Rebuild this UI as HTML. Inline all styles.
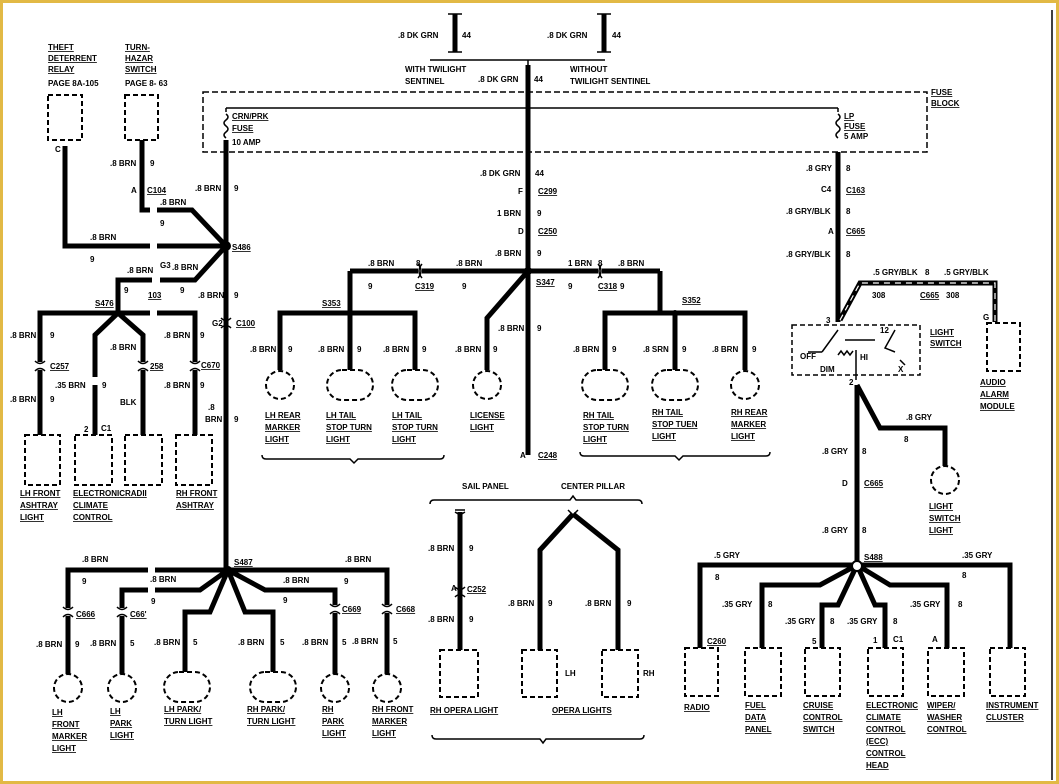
<!DOCTYPE html>
<html><head><meta charset="utf-8"><style>
html,body{margin:0;padding:0;background:#fff}
svg{display:block}
text{font-family:"Liberation Sans",sans-serif;font-weight:bold;font-size:8px;fill:#000}
.u{text-decoration:underline}
.w{fill:none;stroke:#000;stroke-width:5;stroke-linejoin:miter}
.d{fill:#fff;stroke:#000;stroke-width:2;stroke-dasharray:5,3}
.t{fill:none;stroke:#000;stroke-width:1.5}
</style></head><body>
<svg width="1059" height="784" viewBox="0 0 1059 784" xmlns="http://www.w3.org/2000/svg">
<rect x="1.5" y="1.5" width="1056" height="781" fill="#fff" stroke="#e2b945" stroke-width="3"/>
<line x1="1052" y1="10" x2="1052" y2="780" stroke="#000" stroke-width="1.5"/>

<!-- top DK GRN -->
<path class="w" d="M455 14V52M604 14V52M528 65V92"/>
<path class="t" d="M448 14h14M448 52h14M597 14h14M597 52h14M430 60h175M528 60v5"/>
<text x="398" y="38">.8 DK GRN</text><text x="462" y="38">44</text>
<text x="547" y="38">.8 DK GRN</text><text x="612" y="38">44</text>
<text x="405" y="72">WITH TWILIGHT</text><text x="405" y="84">SENTINEL</text>
<text x="478" y="82">.8 DK GRN</text><text x="534" y="82">44</text>
<text x="570" y="72">WITHOUT</text><text x="570" y="84">TWILIGHT SENTINEL</text>

<!-- fuse block -->
<rect x="203" y="92" width="724" height="60" fill="none" stroke="#000" stroke-width="1.5" stroke-dasharray="6,3"/>
<path class="t" d="M226 108H838M226 108v4M838 108v4"/>
<path class="t" d="M226 114q4 3 0 6q-4 3 0 6q4 3 0 6q-4 3 0 6M838 114q4 3 0 6q-4 3 0 6q4 3 0 6q-4 3 0 6"/>
<text x="232" y="119" class="u">CRN/PRK</text><text x="232" y="131" class="u">FUSE</text><text x="232" y="145">10 AMP</text>
<text x="844" y="119" class="u">LP</text><text x="844" y="129" class="u">FUSE</text><text x="844" y="139">5 AMP</text>
<text x="931" y="95" class="u">FUSE</text><text x="931" y="106" class="u">BLOCK</text>

<!-- center column -->
<path class="w" d="M528 92V455"/>
<text x="480" y="176">.8 DK GRN</text><text x="535" y="176">44</text>
<text x="518" y="194">F</text><text x="538" y="194" class="u">C299</text>
<text x="497" y="216">1 BRN</text><text x="537" y="216">9</text>
<text x="518" y="234">D</text><text x="538" y="234" class="u">C250</text>
<text x="495" y="256">.8 BRN</text><text x="537" y="256">9</text>
<text x="536" y="285" class="u">S347</text>
<text x="520" y="458">A</text><text x="538" y="458" class="u">C248</text>
<path class="w" d="M350 271H660M350 271V313M280 370V313H415V370M350 313V370M528 271L487 318V370M660 271V313M605 370V313H745V370M675 313V370"/>
<circle cx="528" cy="271" r="4"/>
<circle cx="350" cy="313" r="3"/><circle cx="675" cy="313" r="3"/>
<path d="M420 264v14M600 264v14" stroke="#fff" stroke-width="4"/>
<path class="t" d="M418 264q6 7 0 14M422 264q-6 7 0 14M598 264q6 7 0 14M602 264q-6 7 0 14"/>
<text x="368" y="266">.8 BRN</text><text x="416" y="266">8</text><text x="456" y="266">.8 BRN</text>
<text x="368" y="289">9</text><text x="415" y="289" class="u">C319</text><text x="462" y="289">9</text>
<text x="568" y="266">1 BRN</text><text x="598" y="266">8</text><text x="618" y="266">.8 BRN</text>
<text x="568" y="289">9</text><text x="598" y="289" class="u">C318</text><text x="620" y="289">9</text>
<text x="322" y="306" class="u">S353</text><text x="682" y="303" class="u">S352</text>
<text x="498" y="331">.8 BRN</text><text x="537" y="331">9</text>
<text x="250" y="352">.8 BRN</text><text x="288" y="352">9</text>
<text x="318" y="352">.8 BRN</text><text x="357" y="352">9</text>
<text x="383" y="352">.8 BRN</text><text x="422" y="352">9</text>
<text x="455" y="352">.8 BRN</text><text x="493" y="352">9</text>
<text x="573" y="352">.8 BRN</text><text x="612" y="352">9</text>
<text x="643" y="352">.8 SRN</text><text x="682" y="352">9</text>
<text x="712" y="352">.8 BRN</text><text x="752" y="352">9</text>
<circle class="d" cx="280" cy="385" r="14"/>
<rect class="d" x="327" y="370" width="46" height="30" rx="15"/>
<rect class="d" x="392" y="370" width="46" height="30" rx="15"/>
<circle class="d" cx="487" cy="385" r="14"/>
<rect class="d" x="582" y="370" width="46" height="30" rx="15"/>
<rect class="d" x="652" y="370" width="46" height="30" rx="15"/>
<circle class="d" cx="745" cy="385" r="14"/>
<g class="u">
<text x="265" y="418">LH REAR</text><text x="265" y="430">MARKER</text><text x="265" y="442">LIGHT</text>
<text x="326" y="418">LH TAIL</text><text x="326" y="430">STOP TURN</text><text x="326" y="442">LIGHT</text>
<text x="392" y="418">LH TAIL</text><text x="392" y="430">STOP TURN</text><text x="392" y="442">LIGHT</text>
<text x="470" y="418">LICENSE</text><text x="470" y="430">LIGHT</text>
<text x="583" y="418">RH TAIL</text><text x="583" y="430">STOP TURN</text><text x="583" y="442">LIGHT</text>
<text x="652" y="415">RH TAIL</text><text x="652" y="427">STOP TUEN</text><text x="652" y="439">LIGHT</text>
<text x="731" y="415">RH REAR</text><text x="731" y="427">MARKER</text><text x="731" y="439">LIGHT</text>
</g>
<path class="t" d="M262 455q0 4 4 4H350l4 4l4-4H440q4 0 4-4M580 452q0 4 4 4H675l4 4l4-4H766q4 0 4-4"/>

<!-- left top -->
<rect class="d" x="48" y="95" width="34" height="45"/>
<rect class="d" x="125" y="95" width="33" height="45"/>
<g class="u"><text x="48" y="50">THEFT</text><text x="48" y="61">DETERRENT</text><text x="48" y="72">RELAY</text>
<text x="125" y="50">TURN-</text><text x="125" y="61">HAZAR</text><text x="125" y="72">SWITCH</text></g>
<text x="48" y="86">PAGE 8A-105</text><text x="125" y="86">PAGE 8-  63</text>
<path class="w" d="M65 146V246H150M157 246H226M142 140V210H150M157 210H192L226 246M226 140V570M226 246L195 280H160M118 313V280H152M40 435V313H150M157 313H195V435M118 313L95 335V435M118 313L143 335V435"/>
<circle cx="226" cy="246" r="5"/><circle cx="118" cy="313" r="3"/>
<text x="55" y="152">C</text>
<text x="232" y="250" class="u">S486</text>
<text x="110" y="166">.8 BRN</text><text x="150" y="166">9</text>
<text x="131" y="193">A</text><text x="147" y="193" class="u">C104</text>
<text x="160" y="205">.8 BRN</text><text x="160" y="226">9</text>
<text x="195" y="191">.8 BRN</text><text x="234" y="191">9</text>
<text x="90" y="240">.8 BRN</text><text x="90" y="262">9</text>
<text x="127" y="273">.8 BRN</text><text x="160" y="268">G3</text><text x="172" y="270">.8 BRN</text>
<text x="124" y="293">9</text><text x="148" y="298" class="u">103</text><text x="180" y="293">9</text>
<text x="198" y="298">.8 BRN</text><text x="234" y="298">9</text>
<text x="95" y="306" class="u">S476</text>
<text x="212" y="326">G2</text><text x="236" y="326" class="u">C100</text>
<text x="10" y="338">.8 BRN</text><text x="50" y="338">9</text>
<text x="110" y="350">.8 BRN</text>
<text x="164" y="338">.8 BRN</text><text x="200" y="338">9</text>
<text x="50" y="369" class="u">C257</text><text x="150" y="369" class="u">258</text><text x="201" y="368" class="u">C670</text>
<text x="55" y="388">.35 BRN</text><text x="102" y="388">9</text><text x="164" y="388">.8 BRN</text><text x="200" y="388">9</text>
<text x="10" y="402">.8 BRN</text><text x="50" y="402">9</text><text x="120" y="405">BLK</text>
<text x="208" y="410">.8</text><text x="205" y="422">BRN</text><text x="234" y="422">9</text>
<text x="84" y="432">2</text><text x="101" y="431">C1</text>
<path d="M40 362v8M95 377v8M143 362v8M195 362v8" stroke="#fff" stroke-width="6"/>
<path class="t" d="M35 361q5 5 10 0M35 371q5-5 10 0M138 361q5 5 10 0M138 371q5-5 10 0M190 361q5 5 10 0M190 371q5-5 10 0M221 318q5 5 10 0M221 328q5-5 10 0"/>
<rect class="d" x="25" y="435" width="35" height="50"/>
<rect class="d" x="75" y="435" width="37" height="50"/>
<rect class="d" x="125" y="435" width="37" height="50"/>
<rect class="d" x="176" y="435" width="36" height="50"/>
<g class="u"><text x="20" y="496">LH FRONT</text><text x="20" y="508">ASHTRAY</text><text x="20" y="520">LIGHT</text>
<text x="73" y="496">ELECTRONICRADII</text><text x="73" y="508">CLIMATE</text><text x="73" y="520">CONTROL</text>
<text x="176" y="496">RH FRONT</text><text x="176" y="508">ASHTRAY</text></g>

<!-- S487 -->
<path class="w" d="M68 675V570H148M155 570H387V675M122 675V590H148M155 590H200L228 570M228 570L210 612H185V672M228 570L245 612H273V672M228 570L265 590H335V675"/>
<circle cx="228" cy="570" r="4"/>
<text x="234" y="565" class="u">S487</text>
<text x="82" y="562">.8 BRN</text><text x="82" y="584">9</text>
<text x="150" y="582">.8 BRN</text><text x="151" y="604">9</text>
<text x="283" y="583">.8 BRN</text><text x="283" y="603">9</text>
<text x="345" y="562">.8 BRN</text><text x="344" y="584">9</text>
<path d="M68 608v8M122 608v8M335 605v8M387 605v8M460 588v8" stroke="#fff" stroke-width="6"/>
<path class="t" d="M63 607q5 5 10 0M63 617q5-5 10 0M117 607q5 5 10 0M117 617q5-5 10 0M330 604q5 5 10 0M330 614q5-5 10 0M382 604q5 5 10 0M382 614q5-5 10 0M455 587q5 5 10 0M455 597q5-5 10 0"/>
<text x="76" y="617" class="u">C666</text><text x="130" y="617" class="u">C66'</text><text x="342" y="612" class="u">C669</text><text x="396" y="612" class="u">C668</text>
<text x="36" y="647">.8 BRN</text><text x="75" y="647">9</text>
<text x="90" y="646">.8 BRN</text><text x="130" y="646">5</text>
<text x="154" y="645">.8 BRN</text><text x="193" y="645">5</text>
<text x="238" y="645">.8 BRN</text><text x="280" y="645">5</text>
<text x="302" y="645">.8 BRN</text><text x="342" y="645">5</text>
<text x="352" y="644">.8 BRN</text><text x="393" y="644">5</text>
<circle class="d" cx="68" cy="688" r="14"/>
<circle class="d" cx="122" cy="688" r="14"/>
<rect class="d" x="164" y="672" width="46" height="30" rx="15"/>
<rect class="d" x="250" y="672" width="46" height="30" rx="15"/>
<circle class="d" cx="335" cy="688" r="14"/>
<circle class="d" cx="387" cy="688" r="14"/>
<g class="u"><text x="52" y="715">LH</text><text x="52" y="727">FRONT</text><text x="52" y="739">MARKER</text><text x="52" y="751">LIGHT</text>
<text x="110" y="714">LH</text><text x="110" y="726">PARK</text><text x="110" y="738">LIGHT</text>
<text x="164" y="712">LH PARK/</text><text x="164" y="724">TURN LIGHT</text>
<text x="247" y="712">RH PARK/</text><text x="247" y="724">TURN LIGHT</text>
<text x="322" y="712">RH</text><text x="322" y="724">PARK</text><text x="322" y="736">LIGHT</text>
<text x="372" y="712">RH FRONT</text><text x="372" y="724">MARKER</text><text x="372" y="736">LIGHT</text></g>

<!-- opera lights -->
<text x="462" y="489">SAIL PANEL</text><text x="561" y="489">CENTER PILLAR</text>
<path class="t" d="M430 504q0-4 4-4H570l3-4l3 4H638q4 0 4 4M432 735q0 4 4 4H540l3 4l3-4H640q4 0 4-4M455 510h10M455 512l5 3l5-3M568 510l5 5l5-5"/>
<path class="w" d="M460 512V650M573 514L540 550V650M573 514L618 550V650"/>
<text x="428" y="551">.8 BRN</text><text x="469" y="551">9</text>
<text x="451" y="591">A</text><text x="467" y="592" class="u">C252</text>
<text x="428" y="622">.8 BRN</text><text x="469" y="622">9</text>
<text x="508" y="606">.8 BRN</text><text x="548" y="606">9</text>
<text x="585" y="606">.8 BRN</text><text x="627" y="606">9</text>
<rect class="d" x="440" y="650" width="38" height="47"/>
<rect class="d" x="522" y="650" width="35" height="47"/>
<rect class="d" x="602" y="650" width="36" height="47"/>
<text x="565" y="676">LH</text><text x="643" y="676">RH</text>
<text x="430" y="713" class="u">RH OPERA LIGHT</text><text x="552" y="713" class="u">OPERA LIGHTS</text>

<!-- right side -->
<path class="w" d="M838 152V322M857 385V565M857 385L880 428H945V466"/>
<path d="M840 320L860 283H995V322" fill="none" stroke="#000" stroke-width="5"/>
<path d="M840 320L860 283H995V322" fill="none" stroke="#fff" stroke-width="1.2" stroke-dasharray="6,5"/>
<text x="806" y="171">.8 GRY</text><text x="846" y="171">8</text>
<text x="821" y="192">C4</text><text x="846" y="193" class="u">C163</text>
<text x="786" y="214">.8 GRY/BLK</text><text x="846" y="214">8</text>
<text x="828" y="234">A</text><text x="846" y="234" class="u">C665</text>
<text x="786" y="257">.8 GRY/BLK</text><text x="846" y="257">8</text>
<text x="873" y="275">.5 GRY/BLK</text><text x="925" y="275">8</text><text x="944" y="275">.5 GRY/BLK</text>
<text x="872" y="298">308</text><text x="920" y="298" class="u">C665</text><text x="946" y="298">308</text>
<text x="826" y="323">3</text><text x="983" y="320">G</text>
<rect x="792" y="325" width="128" height="50" fill="none" stroke="#000" stroke-width="1.5" stroke-dasharray="5,3"/>
<path class="t" d="M838 330L822 352M808 352h14M845 340h30M838 355l3-4l3 4l3-4l3 4l3-4M856 350v30M895 330l-10 18l10 4M900 360l5 5"/>
<text x="800" y="359">OFF</text><text x="820" y="372">DIM</text><text x="860" y="360">HI</text><text x="880" y="333">12</text><text x="898" y="372">X</text>
<text x="930" y="335" class="u">LIGHT</text><text x="930" y="346" class="u">SWITCH</text>
<rect class="d" x="987" y="323" width="33" height="48"/>
<g class="u"><text x="980" y="385">AUDIO</text><text x="980" y="397">ALARM</text><text x="980" y="409">MODULE</text></g>
<text x="849" y="385">2</text>
<text x="906" y="420">.8 GRY</text><text x="904" y="442">8</text>
<text x="822" y="454">.8 GRY</text><text x="862" y="454">8</text>
<text x="842" y="486">D</text><text x="864" y="486" class="u">C665</text>
<text x="822" y="533">.8 GRY</text><text x="862" y="533">8</text>
<circle class="d" cx="945" cy="480" r="14"/>
<g class="u"><text x="929" y="509">LIGHT</text><text x="929" y="521">SWITCH</text><text x="929" y="533">LIGHT</text></g>
<path class="w" d="M700 648V565H1010V648M857 565L820 585H762V648M857 565L838 605H822V648M857 565L875 605H885V648M857 565L890 585H947V648"/>
<circle cx="857" cy="566" r="5" fill="#fff" stroke="#000" stroke-width="2"/>
<text x="864" y="560" class="u">S488</text>
<text x="714" y="558">.5 GRY</text><text x="715" y="580">8</text>
<text x="962" y="558">.35 GRY</text><text x="962" y="578">8</text>
<text x="722" y="607">.35 GRY</text><text x="768" y="607">8</text>
<text x="785" y="624">.35 GRY</text><text x="830" y="624">8</text>
<text x="847" y="624">.35 GRY</text><text x="893" y="624">8</text>
<text x="910" y="607">.35 GRY</text><text x="958" y="607">8</text>
<text x="707" y="644" class="u">C260</text><text x="812" y="644">5</text><text x="873" y="643">1</text><text x="893" y="642">C1</text><text x="932" y="642">A</text>
<rect class="d" x="685" y="648" width="33" height="48"/>
<rect class="d" x="745" y="648" width="36" height="48"/>
<rect class="d" x="805" y="648" width="35" height="48"/>
<rect class="d" x="868" y="648" width="35" height="48"/>
<rect class="d" x="928" y="648" width="36" height="48"/>
<rect class="d" x="990" y="648" width="35" height="48"/>
<g class="u"><text x="684" y="710">RADIO</text>
<text x="745" y="708">FUEL</text><text x="745" y="720">DATA</text><text x="745" y="732">PANEL</text>
<text x="803" y="708">CRUISE</text><text x="803" y="720">CONTROL</text><text x="803" y="732">SWITCH</text>
<text x="866" y="708">ELECTRONIC</text><text x="866" y="720">CLIMATE</text><text x="866" y="732">CONTROL</text><text x="866" y="744">(ECC)</text><text x="866" y="756">CONTROL</text><text x="866" y="768">HEAD</text>
<text x="927" y="708">WIPER/</text><text x="927" y="720">WASHER</text><text x="927" y="732">CONTROL</text>
<text x="986" y="708">INSTRUMENT</text><text x="986" y="720">CLUSTER</text></g>
</svg>
</body></html>
